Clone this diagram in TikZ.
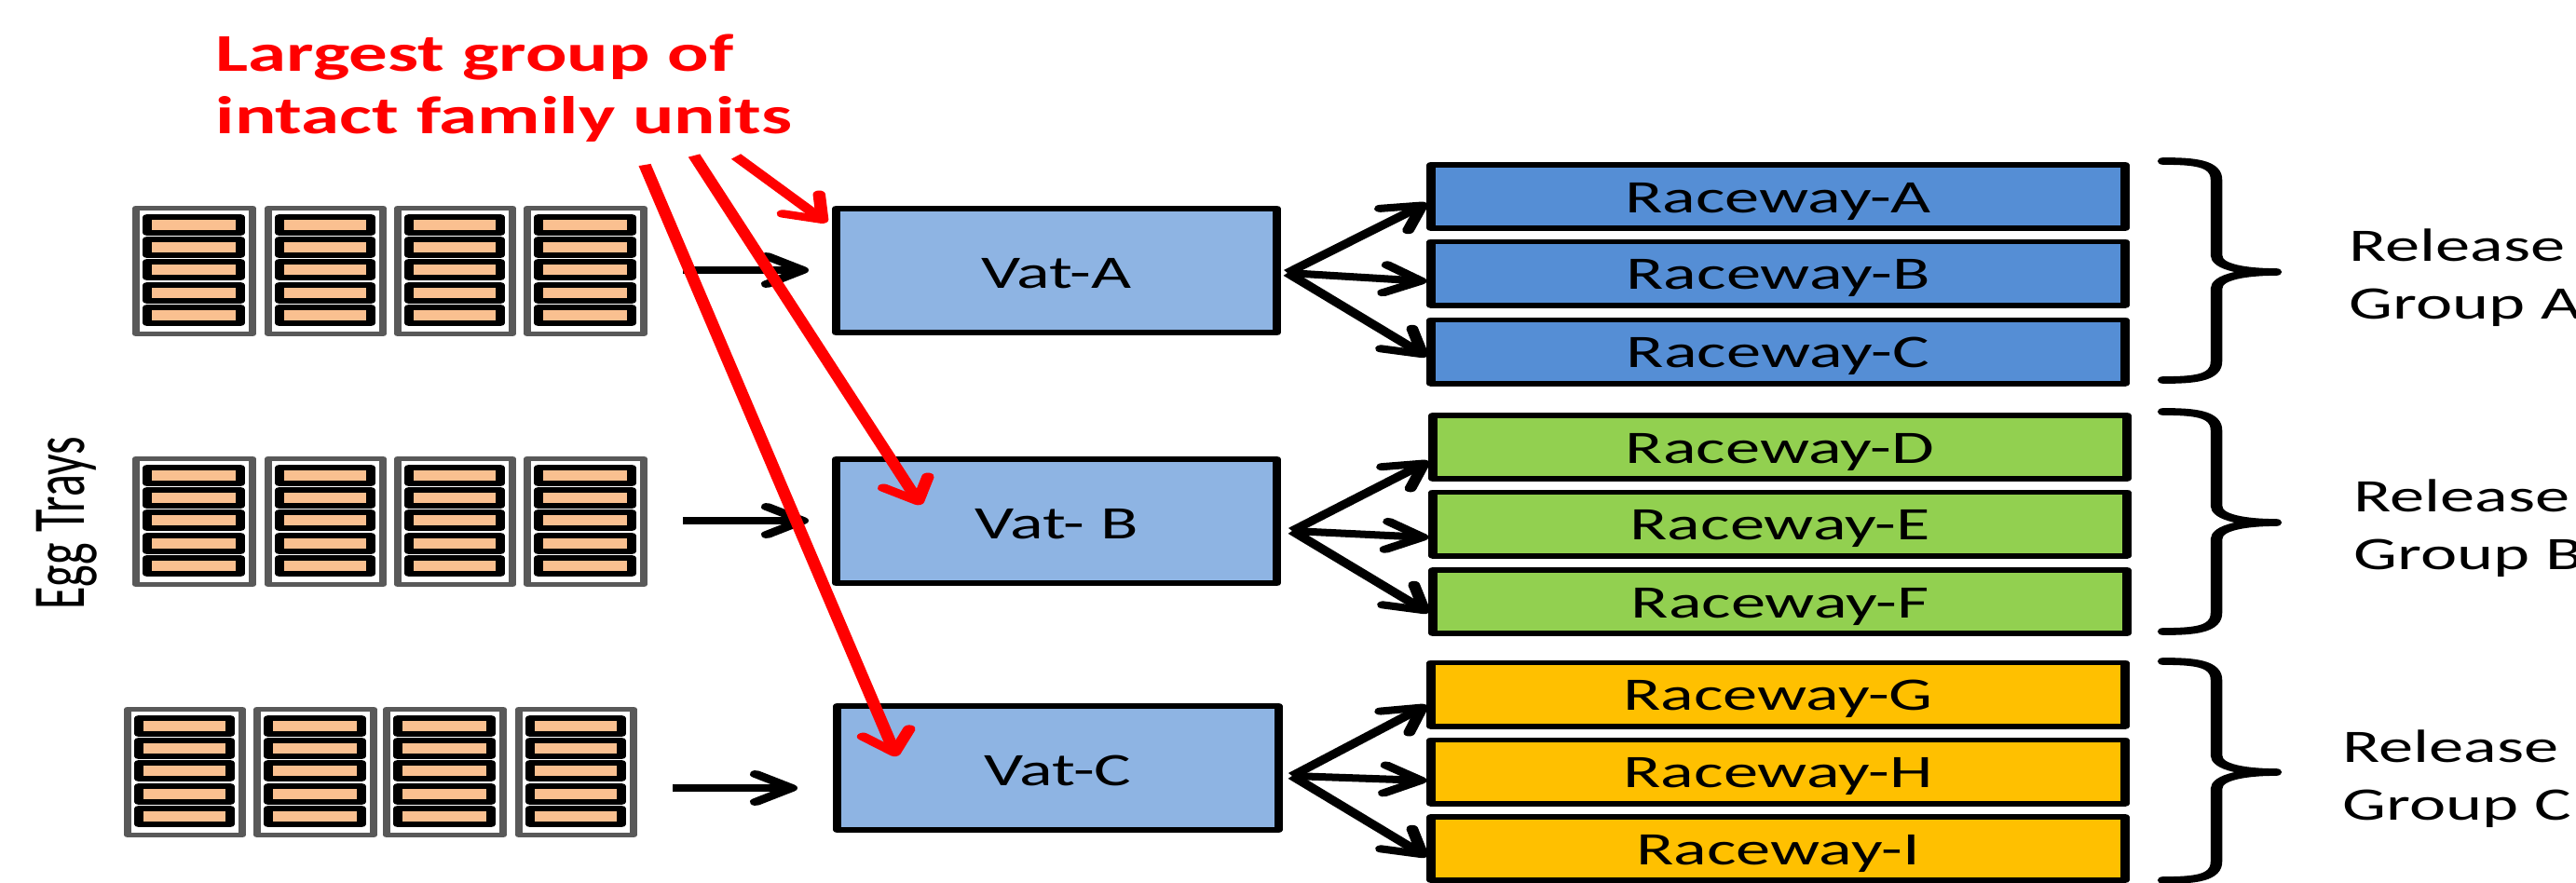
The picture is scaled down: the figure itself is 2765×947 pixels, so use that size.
\documentclass[tikz,border=0pt]{standalone}
\usepackage{fontspec}
\setmainfont[FakeStretch=0.93]{Carlito}
\newfontfamily\eggfont{Carlito}
\newfontfamily\titlefont[FakeStretch=0.91]{Carlito}
\usetikzlibrary{arrows.meta,calc}
\definecolor{vatblue}{HTML}{8EB4E3}
\definecolor{rwblue}{HTML}{558ED5}
\definecolor{rwgreen}{HTML}{92D050}
\definecolor{rwamber}{HTML}{FFC000}
\definecolor{slatfill}{HTML}{FAC090}
\definecolor{traygray}{HTML}{595959}
\tikzset{
  boxbase/.style={draw=black,line width=2.9pt,inner sep=0pt,line join=round,text=black,
    font=\fontsize{25}{30}\selectfont,text depth=0pt,align=center},
  raceway/.style={boxbase,text height=17pt,minimum width=232.8pt,minimum height=34.1pt},
  vat/.style={boxbase,text height=19pt,fill=vatblue,minimum width=148pt,minimum height=66.6pt},
  flow/.style={draw=black,line width=4pt,line join=round,
    -{Straight Barb[length=12pt,width=15pt,round]}},
  redflow/.style={draw=red,line width=4.2pt,line join=round,
    -{Straight Barb[length=11pt,width=16pt,round]}},
  bracket/.style={draw=black,line width=3.9pt,line cap=round,line join=round},
  traybox/.style={draw=traygray,line width=2.6pt,fill=white,line join=round},
  slat/.style={draw=black,line width=3pt,fill=slatfill,line join=round},
  sidelabel/.style={anchor=west,align=left,inner sep=0pt,
    font=\fontsize{25}{31}\selectfont},
  titlelabel/.style={anchor=west,align=left,inner sep=0pt,text=red,
    font=\titlefont\fontsize{28.5}{33.5}\selectfont\bfseries}
}
\newcommand{\trayat}[3]{%
  \draw[traybox] (#1+4,#3+2.5) rectangle (#2-4,#3+137.5);
  \foreach \s in {9,33,57,82,106}{
    \draw[slat] (#1+16,#3+\s+3) rectangle (#2-17,#3+\s+20);
  }}
\newcommand{\bracketat}[3]{%
  \draw[bracket] (2322,#1) .. controls (2355,#1) and (2379,#1+2) .. (2379,#1+20)
    -- (2379,#2-18) .. controls (2379,#2-5) and (2410,#2) .. (2443,#2)
    .. controls (2410,#2) and (2379,#2+5) .. (2379,#2+18)
    -- (2379,#3-20) .. controls (2379,#3-2) and (2355,#3) .. (2322,#3);}
\begin{document}
\begin{tikzpicture}[x=0.5pt,y=-0.5pt]
\useasboundingbox (0,0) rectangle (2765,947);
\begin{scope}[transform canvas={xscale=1.6},x=0.3125pt]
  % trays
  \trayat{142}{275}{221}\trayat{284}{415}{221}\trayat{423}{554}{221}\trayat{562}{695}{221}
  \trayat{142}{275}{490}\trayat{284}{415}{490}\trayat{423}{554}{490}\trayat{562}{695}{490}
  \trayat{133}{264}{759}\trayat{272}{405}{759}\trayat{411}{544}{759}\trayat{553}{684}{759}
  \node[rotate=90,anchor=base,inner sep=0pt,font=\eggfont\fontsize{25}{28}\selectfont] (egg) at (90,562) {Egg Trays};
  % vats
  \node[vat] (va) at (1134,290.5) {Vat-A};
  \node[vat] (vb) at (1134,559.5) {Vat- B};
  \node[vat] (vc) at (1135.5,824.5) {Vat-C};
  % raceways
  \node[raceway,fill=rwblue] (ra) at (1908.5,211) {Raceway-A};
  \node[raceway,fill=rwblue] (rb) at (1908.5,293.5) {Raceway-B};
  \node[raceway,fill=rwblue] (rc) at (1908.5,377.5) {Raceway-C};
  \node[raceway,fill=rwgreen] (rd) at (1910.5,480) {Raceway-D};
  \node[raceway,fill=rwgreen] (re) at (1910.5,562.5) {Raceway-E};
  \node[raceway,fill=rwgreen] (rf) at (1910.5,646) {Raceway-F};
  \node[raceway,fill=rwamber] (rg) at (1908.5,745.5) {Raceway-G};
  \node[raceway,fill=rwamber] (rh) at (1908.5,828.5) {Raceway-H};
  \node[raceway,fill=rwamber] (ri) at (1908.5,911) {Raceway-I};
  % tray to vat
  \coordinate (ta) at (733,290); \coordinate (ea) at (868,290);
  \coordinate (tb) at (733,559); \coordinate (eb) at (868,559);
  \coordinate (tc) at (722,846); \coordinate (ec) at (856,846);
  \draw[flow] (ta) -- (ea);
  \draw[flow] (tb) -- (eb);
  \draw[flow] (tc) -- (ec);
  % vat to raceways
  \coordinate (fa) at (1382,293); \coordinate (fb) at (1387,570); \coordinate (fc) at (1387,833);
  \draw[flow] (fa) -- (ra.west |- 0,218);
  \draw[flow] (fa) -- (rb.west |- 0,302);
  \draw[flow] (fa) -- (rc.west |- 0,383);
  \draw[flow] (fb) -- (rd.west |- 0,495);
  \draw[flow] (fb) -- (re.west |- 0,577);
  \draw[flow] (fb) -- (rf.west |- 0,658);
  \draw[flow] (fc) -- (rg.west |- 0,757);
  \draw[flow] (fc) -- (rh.west |- 0,838);
  \draw[flow] (fc) -- (ri.west |- 0,920);
  % brackets
  \bracketat{173}{292}{408}
  \bracketat{442}{561}{678}
  \bracketat{710}{829}{945}
  % side labels
  \node[sidelabel] (la) at (2521,298) {Release\\Group A};
  \node[sidelabel] (lb) at (2526,567) {Release\\Group B};
  \node[sidelabel] (lc) at (2514,836) {Release\\Group C};
  % title and red arrows
  \node[titlelabel] (title) at (231,95) {Largest group of\\intact family units};
  \coordinate (s1) at (790,168); \coordinate (e1) at (887,239);
  \coordinate (s2) at (745,167); \coordinate (e2) at (988,542);
  \coordinate (s3) at (692,177); \coordinate (e3) at (962,812);
  \draw[redflow] (s1) -- (e1);
  \draw[redflow] (s2) -- (e2);
  \draw[redflow] (s3) -- (e3);
\end{scope}
\end{tikzpicture}
\end{document}
